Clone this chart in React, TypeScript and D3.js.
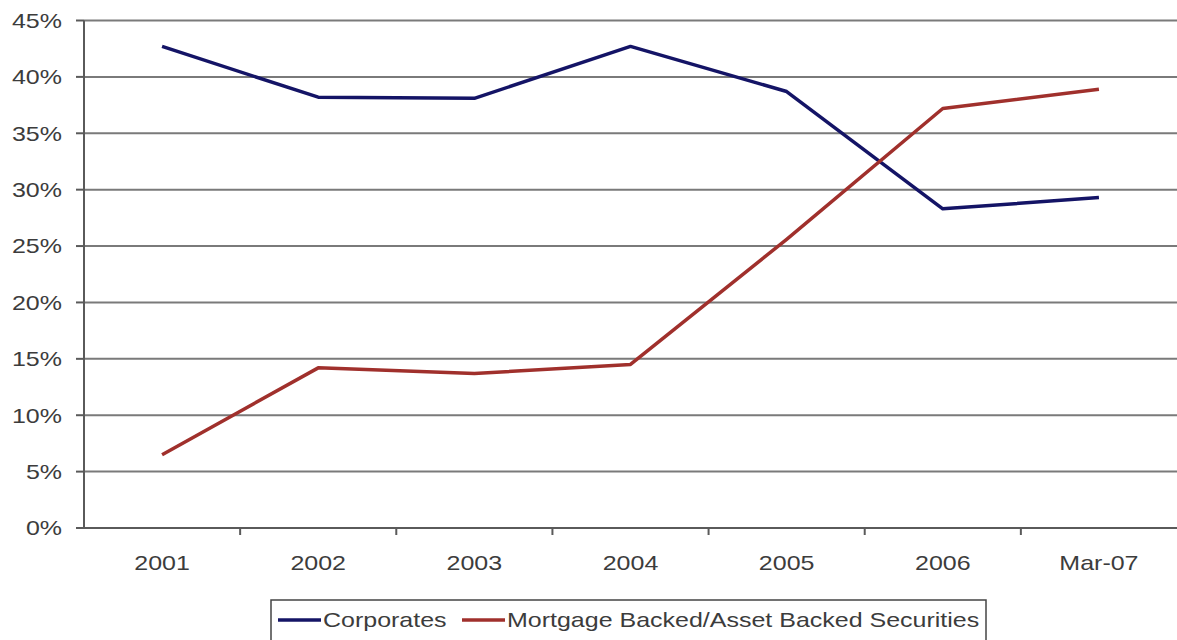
import React, { useEffect, useRef } from "react";
import * as d3 from "d3";

const categories = ["2001", "2002", "2003", "2004", "2005", "2006", "Mar-07"];
const corporates = [42.7, 38.2, 38.1, 42.7, 38.7, 28.3, 29.3];
const mortgageBacked = [6.5, 14.2, 13.7, 14.5, 25.6, 37.2, 38.9];
const yTicks = [0, 5, 10, 15, 20, 25, 30, 35, 40, 45];
const seriesNames = ["Corporates", "Mortgage Backed/Asset Backed Securities"];
const seriesColors = ["#141466", "#a0302c"];

const W = 1177;
const H = 640;
const margin = { left: 84, right: 0, top: 20.5, bottom: 112 };
const FONT = "'Liberation Sans', Arial, sans-serif";
const TEXT_STRETCH = 1.19;

type G = d3.Selection<SVGGElement, unknown, null, undefined>;

// wide-set label: glyphs drawn slightly stretched horizontally
function label(g: G, x: number, y: number, text: string, anchor: string, size: number) {
  g.append("text")
    .attr("transform", `translate(${x},${y}) scale(${TEXT_STRETCH},1)`)
    .attr("dy", "0.35em")
    .attr("text-anchor", anchor)
    .attr("font-family", FONT)
    .attr("font-size", size)
    .attr("fill", "#3c3c3c")
    .text(text);
}

export default function App() {
  const ref = useRef<SVGSVGElement>(null);

  useEffect(() => {
    const svg = d3.select(ref.current);
    svg.selectAll("*").remove();

    const x = d3
      .scaleBand<string>()
      .domain(categories)
      .range([margin.left, W - margin.right]);
    const y = d3
      .scaleLinear()
      .domain([0, 45])
      .range([H - margin.bottom, margin.top]);

    // horizontal gridlines
    svg
      .append("g")
      .selectAll("line")
      .data(yTicks.filter((t) => t > 0))
      .join("line")
      .attr("x1", margin.left)
      .attr("x2", W)
      .attr("y1", (d) => y(d))
      .attr("y2", (d) => y(d))
      .attr("stroke", "#7a7a7a")
      .attr("stroke-width", 2);

    // y axis
    const yAxis = svg.append("g") as unknown as G;
    yAxis
      .append("line")
      .attr("x1", margin.left)
      .attr("x2", margin.left)
      .attr("y1", y(45))
      .attr("y2", y(0))
      .attr("stroke", "#5a5a5a")
      .attr("stroke-width", 2);
    yAxis
      .selectAll("line.tick")
      .data(yTicks)
      .join("line")
      .attr("class", "tick")
      .attr("x1", margin.left - 8)
      .attr("x2", margin.left)
      .attr("y1", (d) => y(d))
      .attr("y2", (d) => y(d))
      .attr("stroke", "#5a5a5a")
      .attr("stroke-width", 2);
    yTicks.forEach((t) => label(yAxis, 62, y(t), `${t}%`, "end", 21));

    // x axis
    const xAxis = svg.append("g") as unknown as G;
    xAxis
      .append("line")
      .attr("x1", margin.left)
      .attr("x2", W)
      .attr("y1", y(0))
      .attr("y2", y(0))
      .attr("stroke", "#5a5a5a")
      .attr("stroke-width", 2);
    xAxis
      .selectAll("line.tick")
      .data(categories.slice(1))
      .join("line")
      .attr("class", "tick")
      .attr("x1", (d) => x(d)!)
      .attr("x2", (d) => x(d)!)
      .attr("y1", y(0))
      .attr("y2", y(0) + 7)
      .attr("stroke", "#5a5a5a")
      .attr("stroke-width", 2);
    categories.forEach((c) =>
      label(xAxis, x(c)! + x.bandwidth() / 2, 563, c, "middle", 21)
    );

    // series lines
    const line = d3
      .line<number>()
      .x((_, i) => x(categories[i])! + x.bandwidth() / 2)
      .y((d) => y(d));
    [corporates, mortgageBacked].forEach((vals, i) => {
      svg
        .append("path")
        .attr("d", line(vals))
        .attr("fill", "none")
        .attr("stroke", seriesColors[i])
        .attr("stroke-width", 3.5)
        .attr("stroke-linejoin", "round");
    });

    // legend
    const lg = svg.append("g") as unknown as G;
    lg.append("rect")
      .attr("x", 271)
      .attr("y", 600)
      .attr("width", 715)
      .attr("height", 44)
      .attr("fill", "#fff")
      .attr("stroke", "#444")
      .attr("stroke-width", 1.5);
    const items = [
      { x0: 278, name: seriesNames[0], color: seriesColors[0] },
      { x0: 462, name: seriesNames[1], color: seriesColors[1] },
    ];
    items.forEach((it) => {
      lg.append("line")
        .attr("x1", it.x0)
        .attr("x2", it.x0 + 43)
        .attr("y1", 620)
        .attr("y2", 620)
        .attr("stroke", it.color)
        .attr("stroke-width", 3.5);
      label(lg, it.x0 + 45, 620, it.name, "start", 21);
    });
  }, []);

  return (
    <svg
      ref={ref}
      width={W}
      height={H}
      style={{ position: "absolute", left: 0, top: 0, background: "#fff" }}
    />
  );
}
